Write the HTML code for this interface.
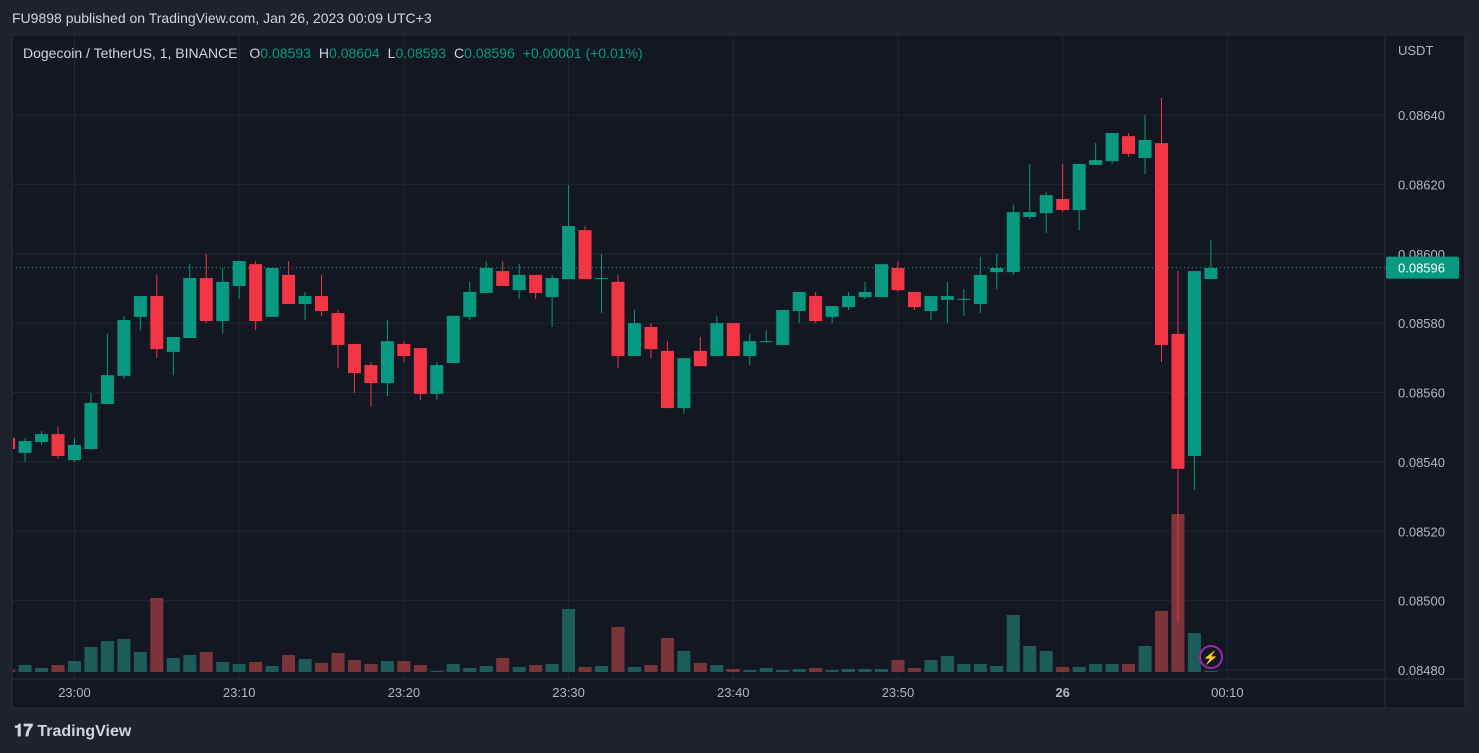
<!DOCTYPE html>
<html><head><meta charset="utf-8"><style>
html,body{margin:0;padding:0;background:#1e222d;width:1479px;height:753px;overflow:hidden;font-family:"Liberation Sans",sans-serif}
#hdr{position:absolute;left:12px;top:10px;color:#d1d4dc;font-size:14px}
#foot{position:absolute;left:14px;top:721px;color:#d1d4dc;font-size:16px;font-weight:bold}
svg{position:absolute;left:0;top:0}
</style></head><body>
<div id="hdr">FU9898 published on TradingView.com, Jan 26, 2023 00:09 UTC+3</div>
<div id="foot"><span style="font-size:17px">𝟏𝟕</span> TradingView</div>
<svg id="chart" width="1479" height="753"></svg>
<script>
const opens=[0.085469,0.085426,0.085457,0.085480,0.085405,0.085437,0.085567,0.085648,0.085818,0.085878,0.085717,0.085757,0.085930,0.085806,0.085907,0.085970,0.085818,0.085939,0.085855,0.085878,0.085829,0.085740,0.085679,0.085627,0.085740,0.085728,0.085596,0.085685,0.085818,0.085887,0.085950,0.085895,0.085939,0.085875,0.085927,0.086068,0.085930,0.085919,0.085705,0.085789,0.085720,0.085555,0.085720,0.085705,0.085800,0.085705,0.085748,0.085737,0.085835,0.085878,0.085818,0.085846,0.085875,0.085875,0.085959,0.085890,0.085835,0.085867,0.085870,0.085855,0.085947,0.085947,0.086106,0.086117,0.086158,0.086126,0.086256,0.086267,0.086339,0.086276,0.086319,0.085769,0.085417,0.085927];
const highs=[0.085472,0.085469,0.085489,0.085500,0.085469,0.085599,0.085769,0.085821,0.085878,0.085939,0.085760,0.085970,0.085999,0.085959,0.085979,0.085979,0.085959,0.085979,0.085890,0.085939,0.085838,0.085740,0.085688,0.085809,0.085748,0.085728,0.085688,0.085821,0.085919,0.085979,0.085979,0.085970,0.085939,0.085939,0.086198,0.086080,0.085999,0.085939,0.085838,0.085800,0.085748,0.085699,0.085760,0.085821,0.085800,0.085769,0.085780,0.085838,0.085890,0.085890,0.085849,0.085890,0.085919,0.085970,0.085979,0.085890,0.085878,0.085919,0.085898,0.085991,0.085999,0.086141,0.086259,0.086178,0.086259,0.086259,0.086319,0.086348,0.086348,0.086400,0.086449,0.085950,0.085950,0.086040];
const lows=[0.085434,0.085400,0.085449,0.085408,0.085400,0.085437,0.085567,0.085639,0.085780,0.085699,0.085650,0.085757,0.085800,0.085769,0.085870,0.085780,0.085818,0.085855,0.085809,0.085821,0.085671,0.085599,0.085558,0.085590,0.085688,0.085578,0.085578,0.085685,0.085809,0.085887,0.085907,0.085870,0.085870,0.085789,0.085927,0.085927,0.085829,0.085671,0.085705,0.085699,0.085555,0.085538,0.085676,0.085705,0.085705,0.085679,0.085743,0.085737,0.085800,0.085800,0.085800,0.085838,0.085870,0.085875,0.085890,0.085838,0.085809,0.085800,0.085821,0.085829,0.085898,0.085939,0.086100,0.086060,0.086120,0.086068,0.086256,0.086259,0.086279,0.086230,0.085688,0.084941,0.085319,0.085927];
const closes=[0.085437,0.085460,0.085480,0.085417,0.085449,0.085570,0.085650,0.085809,0.085878,0.085725,0.085760,0.085930,0.085806,0.085919,0.085979,0.085806,0.085959,0.085855,0.085878,0.085835,0.085737,0.085656,0.085627,0.085748,0.085705,0.085596,0.085679,0.085821,0.085890,0.085959,0.085907,0.085939,0.085887,0.085930,0.086080,0.085927,0.085930,0.085705,0.085800,0.085725,0.085555,0.085699,0.085676,0.085800,0.085705,0.085748,0.085748,0.085838,0.085890,0.085806,0.085849,0.085878,0.085890,0.085970,0.085895,0.085846,0.085878,0.085878,0.085870,0.085939,0.085959,0.086120,0.086120,0.086169,0.086126,0.086259,0.086270,0.086348,0.086288,0.086328,0.085737,0.085380,0.085950,0.085959];
const volumes=[2,7,4,7,11,25,31,33,20,74,14,17,20,10,8,10,6,17,13,9,19,12,8,11,11,7,1,8,4,6,14,5,7,8,63,5,6,45,5,7,34,21,9,7,3,2,4,2,3,4,2,3,3,3,12,4,12,16,8,8,6,57,26,21,5,5,8,8,8,26,61,158,39,1];
const priceTicks=[0.08640,0.08620,0.08600,0.08580,0.08560,0.08540,0.08520,0.08500,0.08480];
const timeTicks=[{i:4,t:"23:00"},{i:14,t:"23:10"},{i:24,t:"23:20"},{i:34,t:"23:30"},{i:44,t:"23:40"},{i:54,t:"23:50"},{i:64,t:"26"},{i:74,t:"00:10"}];
const lastPrice=0.08596;

const NS="http://www.w3.org/2000/svg";
const svg=document.getElementById('chart');
const PL=12,PR=1385,PT=35,PB=679;
const yP=p=>115+(0.0864-p)/0.0002*69.375;
const xI=i=>8.6+16.47*i;
const yV=v=>672-v;
function mk(tag,attrs,parent){const e=document.createElementNS(NS,tag);for(const k in attrs)e.setAttribute(k,attrs[k]);(parent||svg).appendChild(e);return e;}
const bg=mk('rect',{x:PL,y:PT,width:1465-PL,height:708-PT,fill:'#131722',stroke:'#2a2e39'});


mk('line',{x1:PR,y1:PT,x2:PR,y2:708,stroke:'#2a2e39'});
mk('line',{x1:PL,y1:PB,x2:1465,y2:PB,stroke:'#2a2e39'});
const defs=mk('defs',{});const cp=mk('clipPath',{id:'pc'},defs);mk('rect',{x:PL+1,y:PT,width:PR-PL-1,height:PB-PT},cp);
priceTicks.forEach(p=>{
  const y=yP(p);
  const g=mk('line',{x1:PL,y1:y,x2:PR,y2:y,stroke:'#222631'});
  
  
  const t=mk('text',{x:1398,y:y+5,fill:'#b2b5be','font-size':13});t.textContent=p.toFixed(5);
  
  
});
timeTicks.forEach(o=>{
  const x=xI(o.i);
  const g=mk('line',{x1:x,y1:PT,x2:x,y2:PB,stroke:'#222631'});
  
  
  const t=mk('text',{x:x,y:697,fill:'#b2b5be','font-size':13,'text-anchor':'middle','font-weight':o.t==="26"?'bold':'normal'});t.textContent=o.t;
  
  
});
const ul=mk('text',{x:1398,y:55,fill:'#b2b5be','font-size':13});ul.textContent='USDT';


const pg=mk('g',{'clip-path':'url(#pc)'});
volumes.forEach((v,i)=>{
  const up=closes[i]>=opens[i];
  const r=mk('rect',{x:xI(i)-6.5,y:yV(v),width:13,height:v,fill:up?'#1d5c59':'#7b3439'},pg);
  
  
});
const ly=yP(lastPrice);
mk('line',{x1:PL,y1:ly,x2:PR,y2:ly,stroke:'#089981','stroke-dasharray':'1 3'},pg);
opens.forEach((o,i)=>{
  const c=closes[i],up=c>=o,col=up?'#089981':'#f23645',x=xI(i);
  const w=mk('line',{x1:x,y1:yP(highs[i]),x2:x,y2:yP(lows[i]),stroke:col,'stroke-width':1},pg);
  
  
  const t=yP(Math.max(o,c)),b=yP(Math.min(o,c));
  const r=mk('rect',{x:x-6.5,y:t,width:13,height:Math.max(1,b-t),fill:col},pg);
  
  
});
const lb=mk('rect',{x:1386,y:ly-11,width:73,height:22,fill:'#089981',rx:2});


const lt=mk('text',{x:1398,y:ly+5,fill:'#fff','font-size':13});lt.textContent=lastPrice.toFixed(5);
const ic=mk('circle',{cx:1211,cy:657,r:11,fill:'none',stroke:'#9c27b0','stroke-width':2});


const it=mk('text',{x:1211,y:662,fill:'#9c27b0','font-size':13,'text-anchor':'middle'});it.textContent='⚡';
const lg=mk('text',{x:23,y:58,'font-size':14,fill:'#d1d4dc'});


lg.innerHTML='Dogecoin / TetherUS, 1, BINANCE  <tspan dx="8">O</tspan><tspan fill="#089981">0.08593</tspan><tspan dx="8">H</tspan><tspan fill="#089981">0.08604</tspan><tspan dx="8">L</tspan><tspan fill="#089981">0.08593</tspan><tspan dx="8">C</tspan><tspan fill="#089981">0.08596</tspan><tspan dx="8" fill="#089981">+0.00001 (+0.01%)</tspan>';
</script>
</body></html>
